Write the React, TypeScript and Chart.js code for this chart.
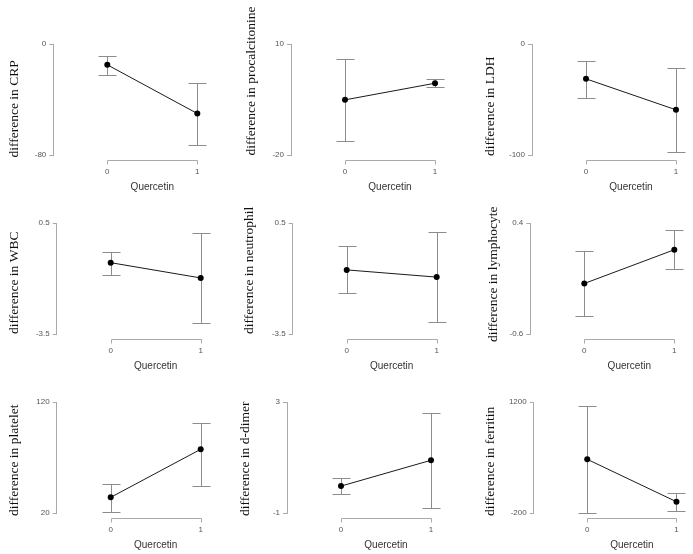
import React, { useEffect, useRef } from "react";
import { Chart, registerables } from "chart.js";

Chart.register(...registerables);

// ---- data ----
const categories = [0, 1];
const outcomes = ["CRP", "procalcitonine", "LDH", "WBC", "neutrophil", "lymphocyte", "platelet", "d-dimer", "ferritin"];
const meanQ0 = [-15, -5.1, -31.4, -0.93, -1.19, -0.145, 34.1, -0.03, 477];
const meanQ1 = [-50.1, -0.6, -59.3, -1.48, -1.45, 0.159, 77.4, 0.9, -58];
const lowerQ0 = [-22.7, -16.2, -48.2, -1.36, -2.02, -0.44, 21.2, -0.33, -200];
const upperQ0 = [-8.4, 5.96, -15.3, -0.54, -0.33, 0.144, 46.4, 0.27, 1153];
const lowerQ1 = [-72.6, -1.7, -97.3, -3.12, -3.07, -0.016, 44, -0.82, -175];
const upperQ1 = [-28.2, 0.65, -21.3, 0.14, 0.18, 0.333, 101.4, 2.59, 56];
const yMin = [-80, -20, -100, -3.5, -3.5, -0.6, 20, -1, -200];
const yMax = [0, 10, 0, 0.5, 0.5, 0.4, 120, 3, 1200];
const xAxisTitle = "Quercetin";

// ---- layout (positions only) ----
const CANVAS_W = 272;
const CANVAS_H = 196;
const COL_LEFT = [0, 231, 462];
const ROW_TOP = [0, 179, 358];
const titleCX = [14, 20, 28, 14, 18.5, 31, 14, 14, 28];
const titleDY = [2.5, 0.5, 1, 0, 0, 8, 3, 3, 3];
const axisX = [53.3, 60, 70, 56.7, 61.7, 68.3, 56.7, 56, 71.7];
const TITLE_SIZE = 13.5;
const X_MIN = -0.6;
const X_MAX = 1.6;
const PLOT_W = 198;

const errorBarPlugin = {
  id: "errorBars",
  beforeDatasetsDraw(chart: any) {
    const { ctx } = chart;
    const x = chart.scales.x;
    const y = chart.scales.y;
    ctx.save();
    ctx.strokeStyle = "#8c8c8c";
    ctx.lineWidth = 1;
    chart.data.datasets.forEach((ds: any) => {
      ds.data.forEach((p: any, i: number) => {
        const px = Math.round(x.getPixelForValue(p.x)) + 0.5;
        const top = Math.round(y.getPixelForValue(ds.errHigh[i])) + 0.5;
        const bot = Math.round(y.getPixelForValue(ds.errLow[i])) + 0.5;
        ctx.beginPath();
        ctx.moveTo(px, top);
        ctx.lineTo(px, bot);
        ctx.moveTo(px - 9, top);
        ctx.lineTo(px + 9, top);
        ctx.moveTo(px - 9, bot);
        ctx.lineTo(px + 9, bot);
        ctx.stroke();
      });
    });
    ctx.restore();
  },
};

const xAxisLinePlugin = {
  id: "xAxisLine",
  afterDraw(chart: any) {
    const { ctx, chartArea } = chart;
    const x = chart.scales.x;
    const yy = Math.round(chartArea.bottom + 5) + 0.5;
    const x0 = Math.round(x.getPixelForValue(categories[0])) + 0.5;
    const x1 = Math.round(x.getPixelForValue(categories[categories.length - 1])) + 0.5;
    ctx.save();
    ctx.strokeStyle = "#aaaaaa";
    ctx.lineWidth = 1;
    ctx.beginPath();
    ctx.moveTo(x0, yy + 4);
    ctx.lineTo(x0, yy);
    ctx.lineTo(x1, yy);
    ctx.lineTo(x1, yy + 4);
    ctx.stroke();
    ctx.restore();
  },
};

const yTitlePlugin = {
  id: "yTitle",
  afterDraw(chart: any, _args: any, opts: any) {
    const { ctx, chartArea } = chart;
    ctx.save();
    ctx.translate(opts.cx, chartArea.bottom + opts.dy);
    ctx.rotate(-Math.PI / 2);
    ctx.font = `${opts.size}px "Liberation Serif"`;
    ctx.fillStyle = "#111";
    ctx.textAlign = "left";
    ctx.textBaseline = "middle";
    ctx.fillText(opts.text, 0, 0);
    ctx.restore();
  },
};

function Panel({ idx }: { idx: number }) {
  const ref = useRef<HTMLCanvasElement | null>(null);
  useEffect(() => {
    if (!ref.current) return;
    const padLeft = titleCX[idx] - (TITLE_SIZE * 1.2) / 2;
    const yWidth = axisX[idx] - padLeft;
    const padRight = CANVAS_W - axisX[idx] - PLOT_W;
    const lo = yMin[idx];
    const hi = yMax[idx];
    const chart = new Chart(ref.current, {
      type: "line",
      data: {
        datasets: [
          {
            data: [
              { x: categories[0], y: meanQ0[idx] },
              { x: categories[1], y: meanQ1[idx] },
            ],
            errLow: [lowerQ0[idx], lowerQ1[idx]],
            errHigh: [upperQ0[idx], upperQ1[idx]],
            borderColor: "#1a1a1a",
            borderWidth: 1,
            pointRadius: 3,
            pointBackgroundColor: "#000",
            pointBorderColor: "#000",
            pointBorderWidth: 0,
            clip: false,
          } as any,
        ],
      },
      options: {
        animation: false,
        responsive: false,
        events: [],
        layout: { padding: { top: 44, bottom: 0, left: padLeft, right: padRight } },
        plugins: {
          legend: { display: false },
          tooltip: { enabled: false },
          title: { display: false },
          yTitle: {
            text: "difference in " + outcomes[idx],
            cx: titleCX[idx],
            dy: titleDY[idx],
            size: TITLE_SIZE,
          },
        },
        scales: {
          x: {
            type: "linear",
            position: "bottom",
            min: X_MIN,
            max: X_MAX,
            afterBuildTicks: (s: any) => {
              s.ticks = categories.map((v) => ({ value: v }));
            },
            afterFit: (s: any) => {
              s.height = 41;
            },
            grid: { display: false, drawTicks: false },
            border: { display: false },
            ticks: {
              padding: 12,
              color: "#555",
              font: { family: "Liberation Sans", size: 8 },
              callback: (v: any) => String(v),
            },
            title: {
              display: true,
              text: xAxisTitle,
              color: "#333",
              font: { family: "Liberation Sans", size: 10 },
              padding: { top: 0, bottom: 3 },
            },
          },
          y: {
            type: "linear",
            position: "left",
            min: lo,
            max: hi,
            afterBuildTicks: (s: any) => {
              s.ticks = [{ value: lo }, { value: hi }];
            },
            afterFit: (s: any) => {
              s.width = yWidth;
            },
            grid: { display: true, drawOnChartArea: false, drawTicks: true, tickLength: 4, color: "#aaaaaa" },
            border: { display: true, color: "#aaaaaa", width: 1 },
            ticks: {
              padding: 3,
              color: "#555",
              font: { family: "Liberation Sans", size: 8 },
              callback: (v: any) => String(v),
            },
            title: { display: false },
          },
        },
      } as any,
      plugins: [errorBarPlugin, xAxisLinePlugin, yTitlePlugin],
    });
    return () => chart.destroy();
  }, [idx]);
  const col = idx % 3;
  const row = Math.floor(idx / 3);
  return (
    <canvas
      ref={ref}
      width={CANVAS_W}
      height={CANVAS_H}
      style={{
        position: "absolute",
        left: COL_LEFT[col],
        top: ROW_TOP[row],
        width: CANVAS_W,
        height: CANVAS_H,
      }}
    />
  );
}

export default function App() {
  return (
    <div
      style={{
        position: "absolute",
        left: 0,
        top: 0,
        width: 693,
        height: 554,
        overflow: "hidden",
        background: "#fff",
      }}
    >
      {outcomes.map((_, i) => (
        <Panel key={i} idx={i} />
      ))}
    </div>
  );
}
